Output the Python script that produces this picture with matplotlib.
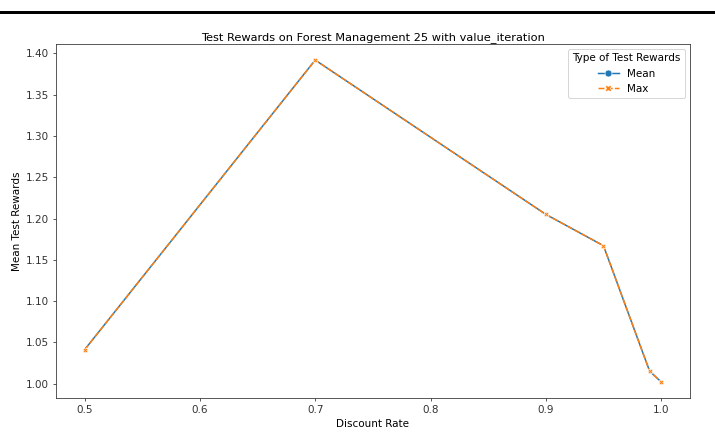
import matplotlib
matplotlib.use("Agg")
import matplotlib.pyplot as plt
from matplotlib.lines import Line2D
import numpy as np

# Discount rates and test rewards
discount_rates = [0.5, 0.7, 0.9, 0.95, 0.99, 1.0]
mean_rewards = [1.041, 1.392, 1.205, 1.167, 1.015, 1.002]
max_rewards = [1.041, 1.392, 1.205, 1.167, 1.015, 1.002]

fig = plt.figure(figsize=(10, 6.154), dpi=71.5)
ax = fig.add_axes([0.078, 0.0955, 0.887, 0.8045])

ax.plot(discount_rates, mean_rewards, color="C0", linestyle="-",
        marker="o", markersize=4, markeredgecolor="white", markeredgewidth=0.6,
        linewidth=1.5, label="Mean")
ax.plot(discount_rates, max_rewards, color="C1", linestyle=(0, (4, 1.5)),
        marker="X", markersize=5, markeredgecolor="white", markeredgewidth=0.6,
        linewidth=1.5, label="Max")

ax.set_title("Test Rewards on Forest Management 25 with value_iteration",
             fontsize=11.5, pad=4)
ax.set_xlabel("Discount Rate", fontsize=10.5)
ax.set_ylabel("Mean Test Rewards", fontsize=10.5)
ax.tick_params(labelsize=10.5, colors="#333333")
ax.set_yticks(np.arange(1.0, 1.401, 0.05))
for s in ax.spines.values():
    s.set_color("#333333")

handles = [
    Line2D([], [], color="C0", linestyle="-", marker="o", markersize=7,
           markeredgecolor="white", markeredgewidth=0.6, linewidth=1.5),
    Line2D([], [], color="C1", linestyle=(0, (4, 1.5)), marker="X", markersize=7,
           markeredgecolor="white", markeredgewidth=0.6, linewidth=1.5),
]
ax.legend(handles, ["Mean", "Max"], title="Type of Test Rewards", loc="upper right",
          fontsize=10.5, title_fontsize=10.5)

# thick rule across the top of the image
fig.add_artist(Line2D([0, 1], [0.972, 0.972], color="black", linewidth=3,
                      transform=fig.transFigure))

fig.savefig("out.png", dpi=71.5)
